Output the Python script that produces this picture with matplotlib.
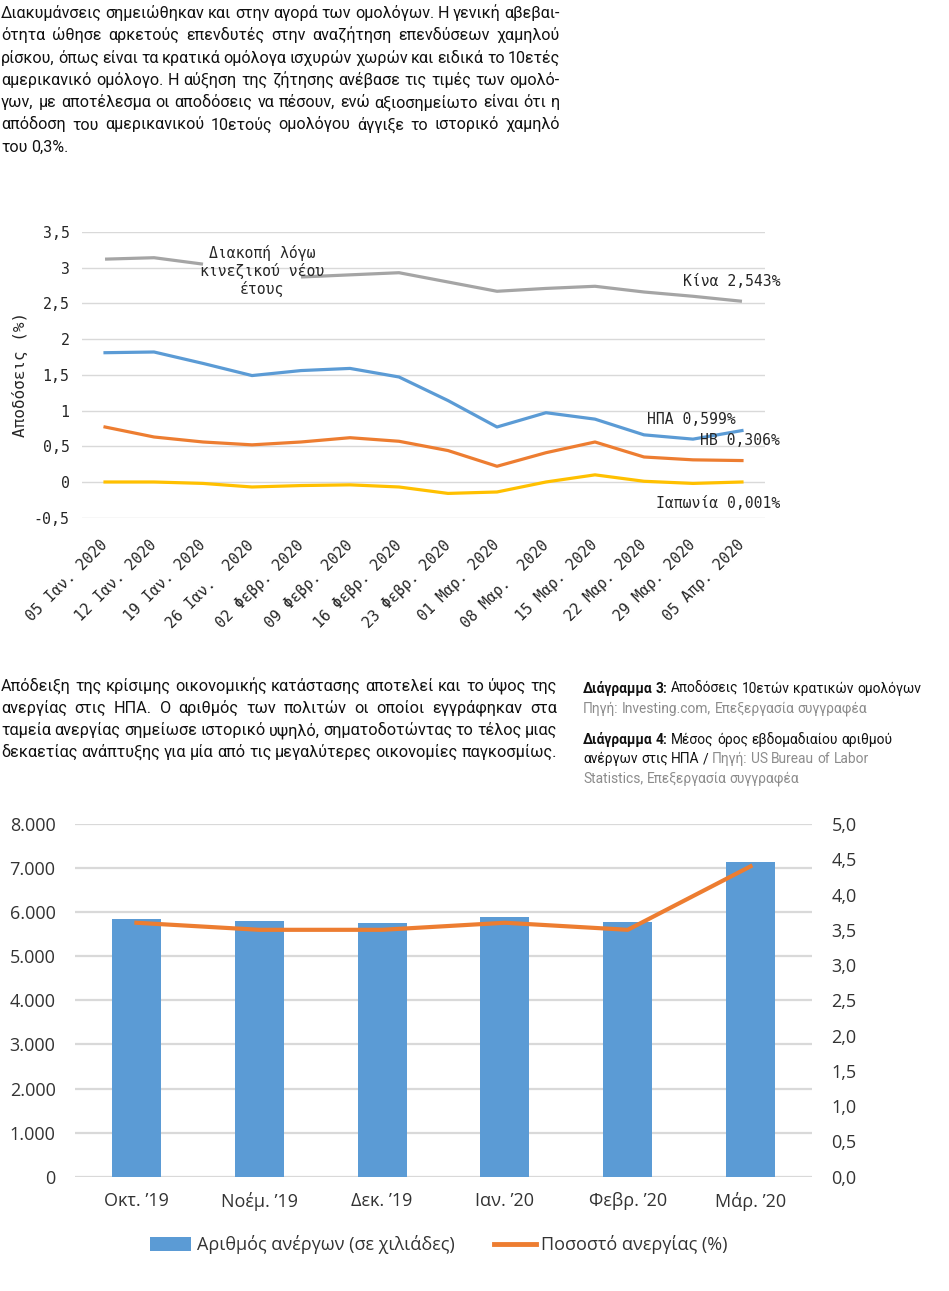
import matplotlib
matplotlib.use("Agg")
import matplotlib.pyplot as plt
import numpy as np
from matplotlib.patches import Patch
from matplotlib.lines import Line2D

# ---------------- data ----------------
para1 = [
    "Διακυμάνσεις σημειώθηκαν και στην αγορά των ομολόγων. Η γενική αβεβαι-",
    "ότητα ώθησε αρκετούς επενδυτές στην αναζήτηση επενδύσεων χαμηλού",
    "ρίσκου, όπως είναι τα κρατικά ομόλογα ισχυρών χωρών και ειδικά το 10ετές",
    "αμερικανικό ομόλογο. Η αύξηση της ζήτησης ανέβασε τις τιμές των ομολό-",
    "γων, με αποτέλεσμα οι αποδόσεις να πέσουν, ενώ αξιοσημείωτο είναι ότι η",
    "απόδοση του αμερικανικού 10ετούς ομολόγου άγγιξε το ιστορικό χαμηλό",
    "του 0,3%.",
]
para2 = [
    "Απόδειξη της κρίσιμης οικονομικής κατάστασης αποτελεί και το ύψος της",
    "ανεργίας στις ΗΠΑ. Ο αριθμός των πολιτών οι οποίοι εγγράφηκαν στα",
    "ταμεία ανεργίας σημείωσε ιστορικό υψηλό, σηματοδοτώντας το τέλος μιας",
    "δεκαετίας ανάπτυξης για μία από τις μεγαλύτερες οικονομίες παγκοσμίως.",
]

dates = ["05 Ιαν. 2020", "12 Ιαν. 2020", "19 Ιαν. 2020", "26 Ιαν.  2020",
         "02 Φεβρ. 2020", "09 Φεβρ. 2020", "16 Φεβρ. 2020", "23 Φεβρ. 2020",
         "01 Μαρ. 2020", "08 Μαρ.  2020", "15 Μαρ. 2020", "22 Μαρ. 2020",
         "29 Μαρ. 2020", "05 Απρ. 2020"]
nan = np.nan
china = [3.12, 3.14, 3.05, nan, 2.87, 2.90, 2.93, 2.80, 2.67, 2.71, 2.74, 2.66, 2.60, 2.53]
usa   = [1.81, 1.82, 1.66, 1.49, 1.56, 1.59, 1.47, 1.14, 0.77, 0.97, 0.88, 0.66, 0.60, 0.72]
uk    = [0.77, 0.63, 0.56, 0.52, 0.56, 0.62, 0.57, 0.44, 0.22, 0.41, 0.56, 0.35, 0.31, 0.30]
japan = [0.00, 0.00, -0.02, -0.07, -0.05, -0.04, -0.07, -0.16, -0.14, 0.00, 0.10, 0.01, -0.02, 0.00]
yield_ticks = [-0.5, 0, 0.5, 1, 1.5, 2, 2.5, 3, 3.5]
yield_ticklabels = ["-0,5", "0", "0,5", "1", "1,5", "2", "2,5", "3", "3,5"]
series_labels = ["Κίνα 2,543%", "ΗΠΑ 0,599%", "ΗΒ 0,306%", "Ιαπωνία 0,001%"]
break_note = "Διακοπή λόγω\nκινεζικού νέου\nέτους"

months = ["Οκτ. ’19", "Νοέμ. ’19", "Δεκ. ’19", "Ιαν. ’20", "Φεβρ. ’20", "Μάρ. ’20"]
unemployed = [5855, 5811, 5753, 5892, 5787, 7140]
unemp_rate = [3.6, 3.5, 3.5, 3.6, 3.5, 4.4]
left_ticks = [0, 1000, 2000, 3000, 4000, 5000, 6000, 7000, 8000]
left_ticklabels = ["0", "1.000", "2.000", "3.000", "4.000", "5.000", "6.000", "7.000", "8.000"]
right_ticks = [0, 0.5, 1, 1.5, 2, 2.5, 3, 3.5, 4, 4.5, 5]
right_ticklabels = ["0,0", "0,5", "1,0", "1,5", "2,0", "2,5", "3,0", "3,5", "4,0", "4,5", "5,0"]
legend_labels = ["Αριθμός ανέργων (σε χιλιάδες)", "Ποσοστό ανεργίας (%)"]

# ---------------- figure ----------------
W, H = 949, 1291
fig = plt.figure(figsize=(W / 100, H / 100), dpi=100)
fig.patch.set_facecolor("white")
renderer = fig.canvas.get_renderer()

TXT_FONT = ["Roboto", "DejaVu Sans"]
MONO = ["DejaVu Sans Mono"]
CHART_FONT = ["Open Sans", "DejaVu Sans"]
DARK = "#111111"
MONO_C = "#262626"


def fx(x):
    return x / W


def fy(y):
    return 1 - y / H


def measure(s, size, family, weight="normal"):
    t = fig.text(0, 0, s, fontsize=size, family=family, weight=weight)
    w = t.get_window_extent(renderer).width
    t.remove()
    return w


def justify_paragraph(lines, x0, x1, base0, dy, size, family, color, justify_last=False):
    target = x1 - x0
    k = 1.0
    for i, ln in enumerate(lines):
        if i == len(lines) - 1 and not justify_last:
            continue
        words = ln.split()
        ws = sum(measure(w, size, family) for w in words)
        em = size * 100 / 72
        need = ws + (len(words) - 1) * 0.2 * em
        k = min(k, target / need)
    size = size * k
    space = measure("a a", size, family) - measure("aa", size, family)
    for i, ln in enumerate(lines):
        words = ln.split()
        widths = [measure(w, size, family) for w in words]
        last = (i == len(lines) - 1) and not justify_last
        if len(words) > 1 and not last:
            gap = (target - sum(widths)) / (len(words) - 1)
        else:
            gap = space
        x = x0
        base = base0 + i * dy
        for w, wd in zip(words, widths):
            fig.text(fx(x), fy(base), w, fontsize=size, family=family, color=color,
                     ha="left", va="baseline")
            x += wd + gap
    return size


def draw_segments(segs, x0, base, size, family):
    space = measure("a a", size, family) - measure("aa", size, family)
    x = x0
    for txt, weight, color in segs:
        parts = txt.split(" ")
        for j, p in enumerate(parts):
            if p:
                fig.text(fx(x), fy(base), p, fontsize=size, family=family, weight=weight,
                         color=color, ha="left", va="baseline")
                x += measure(p, size, family, weight)
            if j < len(parts) - 1:
                x += space


# ---------------- paragraphs ----------------
justify_paragraph(para1, 1, 560, 18, 22.3, 13, TXT_FONT, DARK)
justify_paragraph(para2, 1, 557, 691, 22.0, 13, TXT_FONT, DARK, justify_last=True)

# captions
cap_family = TXT_FONT
GRAY = "#8c8c8c"
cap1 = [("Διάγραμμα 3:", "bold", DARK), (" Αποδόσεις 10ετών κρατικών ομολόγων", "normal", DARK)]
w_test = measure("Διάγραμμα 3:", 10, cap_family, "bold") + measure(" Αποδόσεις 10ετών κρατικών ομολόγων", 10, cap_family)
cap_size = 10 * (922 - 583) / w_test
draw_segments(cap1, 583, 693, cap_size, cap_family)
draw_segments([("Πηγή: Investing.com, Επεξεργασία συγγραφέα", "normal", GRAY)], 583, 712.5, cap_size, cap_family)
draw_segments([("Διάγραμμα 4:", "bold", DARK), (" Μέσος όρος εβδομαδιαίου αριθμού", "normal", DARK)],
              583, 743.5, cap_size, cap_family)
draw_segments([("ανέργων στις ΗΠΑ /", "normal", DARK), (" Πηγή: US Bureau of Labor", "normal", GRAY)],
              583, 763, cap_size, cap_family)
draw_segments([("Statistics, Επεξεργασία συγγραφέα", "normal", GRAY)], 583, 782.5, cap_size, cap_family)

# ---------------- chart 1: bond yields ----------------
ax1 = fig.add_axes([fx(82), fy(517.7), (765 - 82) / W, (517.7 - 232) / H])
x = np.arange(len(dates))
ax1.plot(x, china, color="#A5A5A5", lw=2.3, solid_capstyle="butt")
ax1.plot(x, usa, color="#5B9BD5", lw=2.3)
ax1.plot(x, uk, color="#ED7D31", lw=2.3)
ax1.plot(x, japan, color="#FFC000", lw=2.3)
ax1.set_xlim(-0.47, 13.47)
ax1.set_ylim(-0.5, 3.5)
ax1.set_yticks(yield_ticks)
ax1.set_yticklabels(yield_ticklabels, family=MONO, fontsize=10.7, color=MONO_C)
ax1.set_xticks(x)
ax1.set_xticklabels(dates, family=MONO, fontsize=10.7, color=MONO_C,
                    rotation=45, ha="right", va="center", rotation_mode="anchor")
ax1.tick_params(axis="y", length=0, pad=9)
ax1.tick_params(axis="x", length=0, pad=18)
ax1.grid(axis="y", color="#d9d9d9", lw=1)
ax1.set_axisbelow(True)
for s in ax1.spines.values():
    s.set_visible(False)
ax1.set_facecolor("none")
ax1.set_ylabel("Αποδόσεις (%)", family=MONO, fontsize=11.5, color=MONO_C, labelpad=4)

ax1.text(3.2, 2.95, break_note, family=MONO, fontsize=10.6, color=MONO_C,
         ha="center", va="center", linespacing=1.15)
ax1.text(13.78, 2.81, series_labels[0], family=MONO, fontsize=10.6, color=MONO_C, ha="right", va="center")
ax1.text(12.88, 0.88, series_labels[1], family=MONO, fontsize=10.6, color=MONO_C, ha="right", va="center")
ax1.text(13.78, 0.585, series_labels[2], family=MONO, fontsize=10.6, color=MONO_C, ha="right", va="center")
ax1.text(13.78, -0.30, series_labels[3], family=MONO, fontsize=10.6, color=MONO_C, ha="right", va="center")

# ---------------- chart 2: unemployment ----------------
ax2 = fig.add_axes([fx(75), fy(1176.7), (812 - 75) / W, (1176.7 - 824) / H])
xm = np.arange(len(months))
bars = ax2.bar(xm, unemployed, width=0.4, color="#5B9BD5", zorder=2)
ax2.set_xlim(-0.5, 5.5)
ax2.set_ylim(0, 8000)
ax2.set_yticks(left_ticks)
ax2.set_yticklabels(left_ticklabels, family=CHART_FONT, fontsize=13, color="#333333")
ax2.set_xticks(xm)
ax2.set_xticklabels(months, family=CHART_FONT, fontsize=13, color="#333333")
ax2.tick_params(axis="y", length=0, pad=14)
ax2.tick_params(axis="x", length=0, pad=11)
ax2.grid(axis="y", color="#d9d9d9", lw=1.6, zorder=0)
ax2.set_axisbelow(True)
for s in ax2.spines.values():
    s.set_visible(False)

ax2r = ax2.twinx()
ax2r.plot(xm, unemp_rate, color="#ED7D31", lw=3, zorder=3)
ax2r.set_ylim(0, 5)
ax2r.set_yticks(right_ticks)
ax2r.set_yticklabels(right_ticklabels, family=CHART_FONT, fontsize=13, color="#333333")
ax2r.tick_params(axis="y", length=0, pad=14)
for s in ax2r.spines.values():
    s.set_visible(False)

handles = [Patch(facecolor="#5B9BD5", edgecolor="none"),
           Line2D([0], [0], color="#ED7D31", lw=3.5)]
fig.legend(handles, legend_labels, loc="center", ncol=2,
           bbox_to_anchor=(fx(438.5), fy(1245)), bbox_transform=fig.transFigure,
           frameon=False, prop={"family": CHART_FONT, "size": 13},
           handlelength=2.3, handleheight=0.8, handletextpad=0.3, columnspacing=2.2,
           labelcolor="#333333")

fig.savefig("out.png", dpi=100, facecolor="white")
